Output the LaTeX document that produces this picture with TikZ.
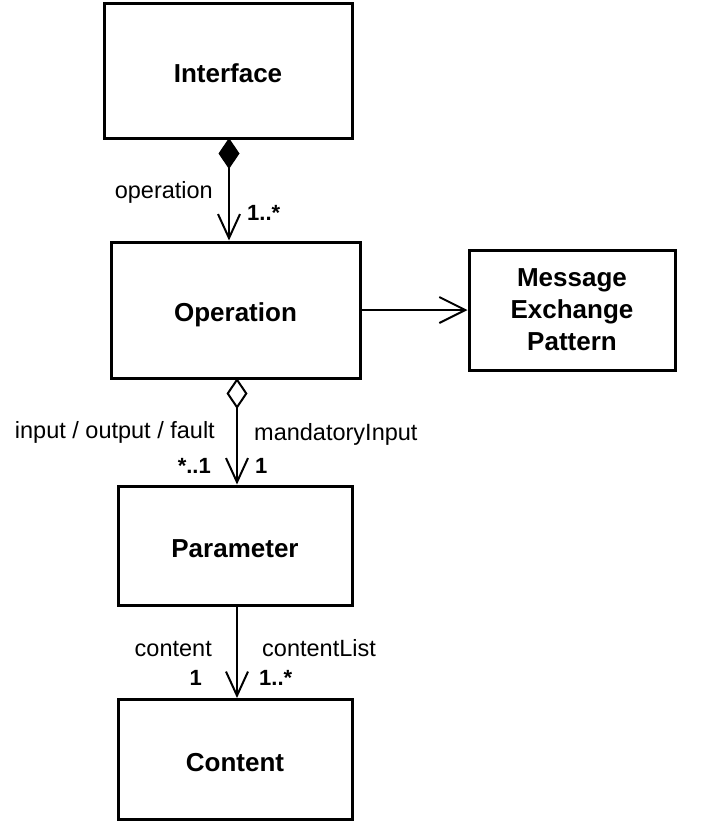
\documentclass[tikz,border=0pt]{standalone}
\usepackage{fontspec}
\setmainfont{Liberation Sans}
\usetikzlibrary{arrows.meta}
\tikzset{
  box/.style={draw, line width=3pt, rectangle, inner sep=0pt, align=center,
    font=\fontsize{26}{32}\selectfont\bfseries},
  onebox/.style={box, text height=23pt, text depth=0pt},
  lbl/.style={inner sep=0pt, font=\fontsize{23.5}{28}\selectfont},
  mult/.style={inner sep=0pt, font=\fontsize{22}{26}\selectfont\bfseries},
  conn/.style={line width=2pt},
}
\begin{document}
\begin{tikzpicture}[x=1pt,y=-1pt]
\useasboundingbox (0,0) rectangle (706,822);
\node[onebox, minimum width=248pt, minimum height=135pt] (iface) at (228,70.5) {Interface};
\node[onebox, minimum width=249pt, minimum height=136pt] (op) at (235.5,310) {Operation};
\node[box, minimum width=206pt, minimum height=120pt] (mep) at (572,310) {Message\\Exchange\\Pattern};
\node[onebox, minimum width=234pt, minimum height=119pt] (param) at (235,545.5) {Parameter};
\node[onebox, minimum width=234pt, minimum height=120pt] (cont) at (235,759.5) {Content};

\coordinate (a1) at (229,138);
\coordinate (a2) at (237,378);
\coordinate (a3) at (237,605);

\draw[conn, {Diamond[length=31pt,width=21pt]}-{Straight Barb[length=24pt,width=22pt]}] (a1) -- (a1 |- op.north);
\draw[conn, -{Straight Barb[length=26pt,width=26pt]}] (op.east) -- (mep.west);
\draw[conn, {Diamond[open,length=31pt,width=21pt]}-{Straight Barb[length=24pt,width=22pt]}] (a2) -- (a2 |- param.north);
\draw[conn, -{Straight Barb[length=24pt,width=22pt]}] (a3) -- (a3 |- cont.north);

\node[lbl, anchor=mid east] (l1) at (213,196) {operation};
\node[mult, anchor=mid west] (m1) at (247,218) {1..*};
\node[lbl, anchor=mid east] (l2) at (215,436) {input / output / fault};
\node[lbl, anchor=mid west] (l3) at (254,438) {mandatoryInput};
\node[mult, anchor=mid east] (m2) at (211,471) {*..1};
\node[mult, anchor=mid west] (m3) at (255,471) {1};
\node[lbl, anchor=mid east] (l4) at (212,654) {content};
\node[lbl, anchor=mid west] (l5) at (262,654) {contentList};
\node[mult, anchor=mid east] (m4) at (202,683) {1};
\node[mult, anchor=mid west] (m5) at (259,683) {1..*};
\end{tikzpicture}
\end{document}
